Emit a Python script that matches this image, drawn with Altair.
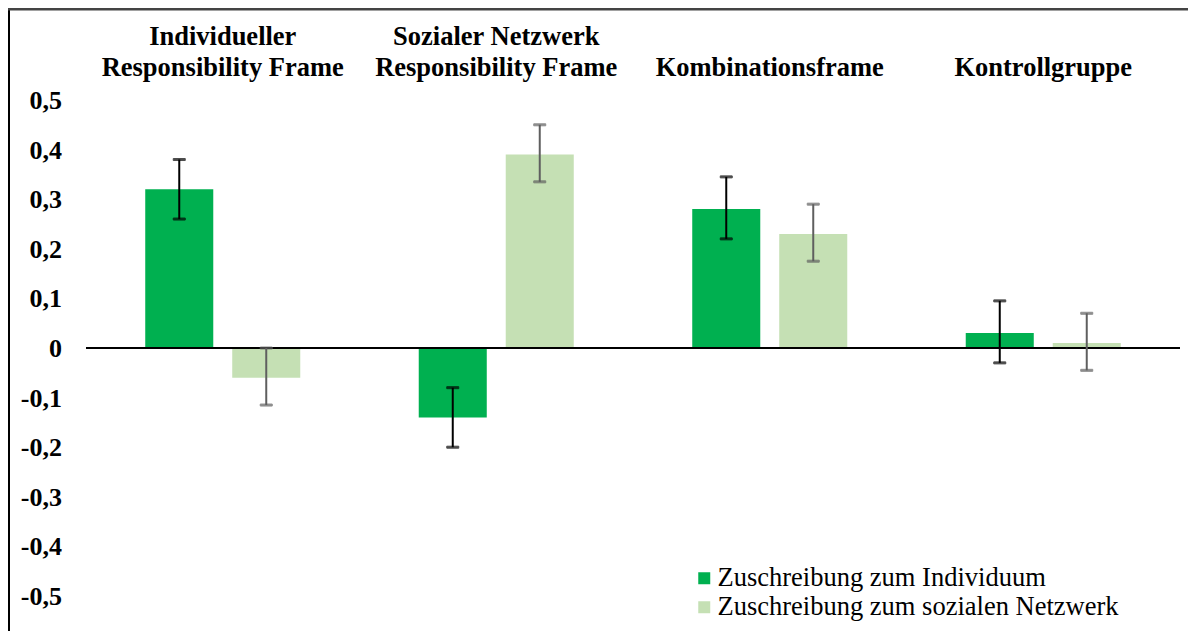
import altair as alt
import pandas as pd

categories = ["Individueller|Responsibility Frame", "Sozialer Netzwerk|Responsibility Frame",
              "Kombinationsframe", "Kontrollgruppe"]
series = ["Zuschreibung zum Individuum", "Zuschreibung zum sozialen Netzwerk"]
colors = ["#00B050", "#C5E0B4"]
err_colors = ["#000000", "#5f5f5f"]

individuum = [0.32, -0.14, 0.28, 0.03]
individuum_lo = [0.26, -0.20, 0.22, -0.03]
individuum_hi = [0.38, -0.08, 0.345, 0.095]

netzwerk = [-0.06, 0.39, 0.23, 0.01]
netzwerk_lo = [-0.115, 0.335, 0.175, -0.045]
netzwerk_hi = [0.0, 0.45, 0.29, 0.07]

y_ticks = [-0.5, -0.4, -0.3, -0.2, -0.1, 0.0, 0.1, 0.2, 0.3, 0.4, 0.5]
y_tick_labels = ["-0,5", "-0,4", "-0,3", "-0,2", "-0,1", "0", "0,1", "0,2", "0,3", "0,4", "0,5"]

rows = []
for i, c in enumerate(categories):
    rows.append(dict(cat=c, series=series[0], value=individuum[i], lo=individuum_lo[i], hi=individuum_hi[i]))
    rows.append(dict(cat=c, series=series[1], value=netzwerk[i], lo=netzwerk_lo[i], hi=netzwerk_hi[i]))
df = pd.DataFrame(rows)
ticks_df = pd.DataFrame({"tick": y_ticks, "label": y_tick_labels})

SERIF = "Liberation Serif"

x_axis = alt.Axis(orient="top", title=None, labelAngle=0, domain=False, ticks=False,
                  labelExpr="indexof(datum.label, '|') >= 0 ? split(datum.label, '|') : ['', datum.label]",
                  labelFont=SERIF, labelFontWeight="bold", labelColor="black",
                  labelFontSize=26.5, labelLineHeight=31, labelPadding=50, labelLimit=500)

x_scale = alt.Scale(paddingInner=0, paddingOuter=0)
xoff = alt.XOffset("series:N", sort=series,
                   scale=alt.Scale(paddingInner=0.218, paddingOuter=0.681))
y_scale = alt.Scale(domain=[-0.5, 0.5], nice=False, zero=False)

err_stroke = alt.Stroke("series:N", sort=series, scale=alt.Scale(domain=series, range=err_colors), legend=None)
err_fill = alt.Fill("series:N", sort=series, scale=alt.Scale(domain=series, range=err_colors), legend=None)

bars = alt.Chart(df).mark_bar().encode(
    x=alt.X("cat:N", sort=categories, scale=x_scale, axis=x_axis),
    xOffset=xoff,
    y=alt.Y("value:Q", scale=y_scale, axis=None),
    y2=alt.datum(0),
    color=alt.Color("series:N", sort=series,
                    scale=alt.Scale(domain=series, range=colors),
                    legend=alt.Legend(title=None, orient="none", legendX=605, legendY=465,
                                      symbolType="square", symbolSize=144, symbolStrokeWidth=0,
                                      labelFont=SERIF, labelColor="black",
                                      labelFontSize=26.5, labelOffset=0, rowPadding=2,
                                      padding=0, labelLimit=600)),
)

y_labels = alt.Chart(ticks_df).mark_text(
    align="right", baseline="middle", font=SERIF, fontWeight="bold", fontSize=26, color="black", dy=1
).encode(
    x=alt.value(-24),
    y=alt.Y("tick:Q", scale=y_scale, axis=None),
    text="label:N",
)

zero = alt.Chart(pd.DataFrame({"value": [0]})).mark_rule(color="black", strokeWidth=2).encode(
    y=alt.Y("value:Q", scale=y_scale, axis=None)
)

err_rule = alt.Chart(df).mark_rule(strokeWidth=2).encode(
    x=alt.X("cat:N", sort=categories, scale=x_scale, axis=x_axis),
    xOffset=xoff,
    y=alt.Y("lo:Q", scale=y_scale, axis=None),
    y2="hi:Q",
    stroke=err_stroke,
)
cap_lo = alt.Chart(df).mark_tick(thickness=2, size=12).encode(
    x=alt.X("cat:N", sort=categories, scale=x_scale, axis=x_axis),
    xOffset=xoff,
    y=alt.Y("lo:Q", scale=y_scale, axis=None),
    stroke=err_stroke, fill=err_fill,
)
cap_hi = alt.Chart(df).mark_tick(thickness=2, size=12).encode(
    x=alt.X("cat:N", sort=categories, scale=x_scale, axis=x_axis),
    xOffset=xoff,
    y=alt.Y("hi:Q", scale=y_scale, axis=None),
    stroke=err_stroke, fill=err_fill,
)

frame_left = alt.Chart(pd.DataFrame({"a": [0]})).mark_rule(color="black", strokeWidth=2).encode(
    x=alt.value(-77), y=alt.value(-92), y2=alt.value(560)
)
frame_top = alt.Chart(pd.DataFrame({"a": [0]})).mark_rule(color="#444444", strokeWidth=3).encode(
    x=alt.value(-86), x2=alt.value(1111), y=alt.value(-91)
)

chart = alt.layer(bars, y_labels, zero, err_rule, cap_lo, cap_hi, frame_left, frame_top).resolve_scale(
    color="independent"
).properties(
    width=1094, height=496,
    background="white",
    padding={"left": 78, "top": 92, "right": 8, "bottom": 35},
    autosize=alt.AutoSizeParams(type="none"),
).configure_view(
    stroke=None, strokeWidth=0
).configure_axis(
    labelFont=SERIF, labelFontWeight="bold", labelColor="black"
).configure_legend(
    labelFont=SERIF, labelColor="black"
)

chart.save("out.html", embed_options={"renderer": "svg", "actions": False})
